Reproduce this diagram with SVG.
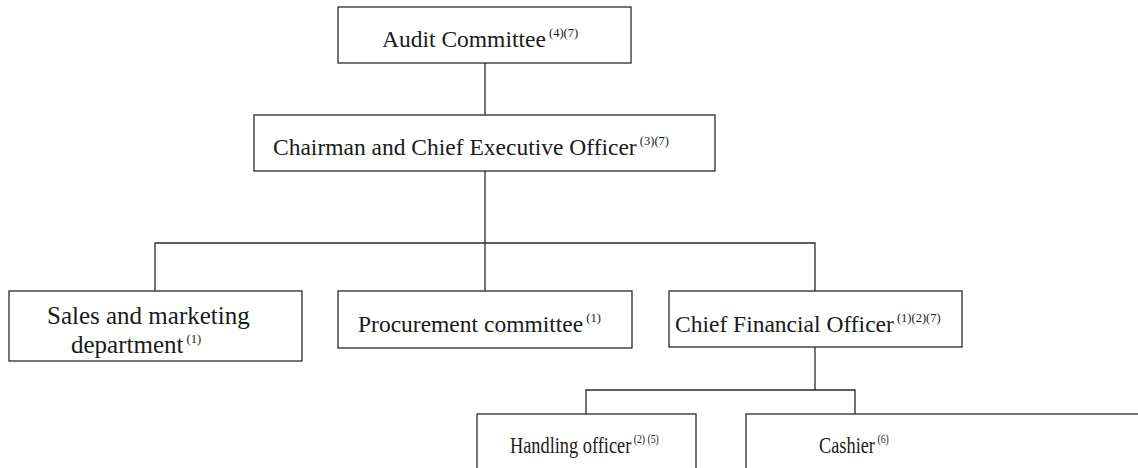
<svg xmlns="http://www.w3.org/2000/svg" width="1138" height="468" viewBox="0 0 1138 468">
  <style>
    .box { fill: #ffffff; stroke: #2a2a2a; stroke-width: 1.3; }
    .link { fill: none; stroke: #2a2a2a; stroke-width: 1.3; }
    .lbl { font-family: "Liberation Serif", "Times New Roman", serif; font-size: 23.5px; fill: #1a1a1a; }
    .big { font-size: 25px; }
    .sup { font-size: 12.5px; }
  </style>
  <rect width="1138" height="468" fill="#ffffff"/>

  <!-- connectors -->
  <g id="connectors">
    <path class="link" d="M485,63 V115"/>
    <path class="link" d="M485,171 V243"/>
    <path class="link" d="M155,291 V243 H815 V291"/>
    <path class="link" d="M485,243 V291"/>
    <path class="link" d="M815,347 V390"/>
    <path class="link" d="M586,414 V390 H855 V414"/>
  </g>

  <g id="audit-committee">
    <rect class="box" x="338" y="7" width="293" height="56"/>
    <text class="lbl" x="382" y="47">Audit Committee<tspan class="sup" dy="-10"> (4)(7)</tspan></text>
  </g>

  <g id="chairman-ceo">
    <rect class="box" x="254" y="115" width="461" height="56"/>
    <text class="lbl" x="273" y="155">Chairman and Chief Executive Officer<tspan class="sup" dy="-10"> (3)(7)</tspan></text>
  </g>

  <g id="sales-marketing">
    <rect class="box" x="9" y="291" width="293" height="70"/>
    <text class="lbl big" x="47" y="324">Sales and marketing</text>
    <text class="lbl big" x="71" y="353">department<tspan class="sup" dy="-10"> (1)</tspan></text>
  </g>

  <g id="procurement-committee">
    <rect class="box" x="338" y="291" width="294" height="57"/>
    <text class="lbl" x="358" y="332">Procurement committee<tspan class="sup" dy="-10"> (1)</tspan></text>
  </g>

  <g id="cfo">
    <rect class="box" x="669" y="291" width="293" height="56"/>
    <text class="lbl" x="675" y="332">Chief Financial Officer<tspan class="sup" dy="-10"> (1)(2)(7)</tspan></text>
  </g>

  <g id="handling-officer">
    <rect class="box" x="477" y="414" width="219" height="70"/>
    <g transform="translate(510,453) scale(0.78,1)">
      <text class="lbl" x="0" y="0">Handling officer<tspan class="sup" dy="-10"> (2) (5)</tspan></text>
    </g>
  </g>

  <g id="cashier">
    <rect class="box" x="746" y="414" width="420" height="70"/>
    <g transform="translate(819,453) scale(0.78,1)">
      <text class="lbl" x="0" y="0">Cashier<tspan class="sup" dy="-10"> (6)</tspan></text>
    </g>
  </g>
</svg>
